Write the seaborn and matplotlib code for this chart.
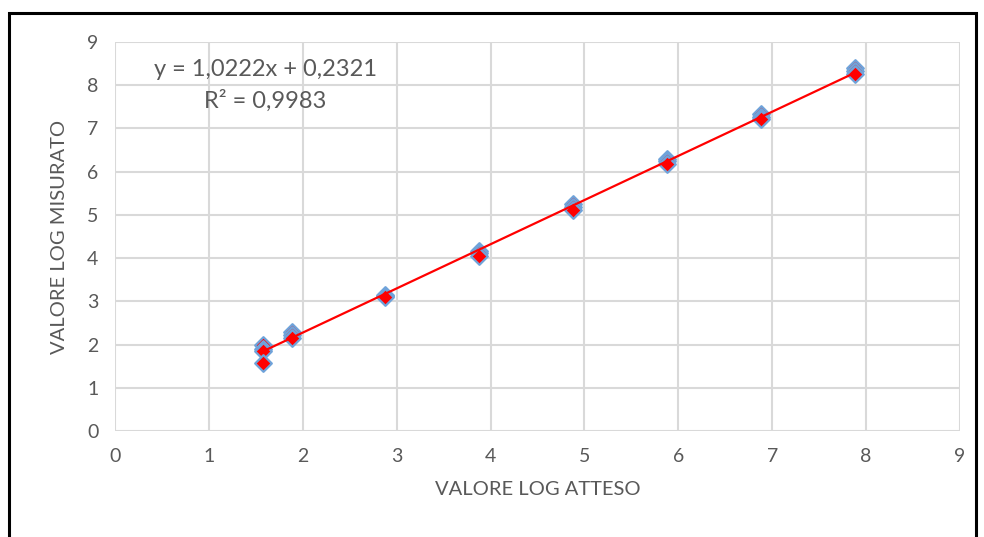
import matplotlib
matplotlib.use("Agg")
import matplotlib.pyplot as plt
import seaborn as sns
import numpy as np
import pandas as pd
from matplotlib.patches import Rectangle

# Expected vs measured log values (replicates per level)
expected_log = [1.58, 1.58, 1.58, 1.58,
                1.88, 1.88, 1.88,
                2.88, 2.88, 2.88,
                3.88, 3.88, 3.88,
                4.88, 4.88, 4.88,
                5.88, 5.88, 5.88,
                6.88, 6.88, 6.88,
                7.88, 7.88, 7.88]
measured_log = [1.98, 1.90, 1.85, 1.57,
                2.30, 2.22, 2.15,
                3.15, 3.12, 3.10,
                4.17, 4.12, 4.05,
                5.25, 5.18, 5.12,
                6.30, 6.25, 6.18,
                7.33, 7.27, 7.22,
                8.40, 8.33, 8.25]

# Linear trendline coefficients
slope = 1.0222
intercept = 0.2321
r_squared = 0.9983

ticks = list(range(0, 10))

sns.set_theme(style="white")
plt.rcParams["font.family"] = ["Lato", "DejaVu Sans"]

fig = plt.figure(figsize=(9.84, 5.37), dpi=100)
ax = fig.add_axes([115 / 984, (537 - 431) / 537, (960 - 115) / 984, (431 - 42) / 537])

df = pd.DataFrame({"atteso": expected_log, "misurato": measured_log})

# trendline over the data range
x_line = np.array([min(expected_log), max(expected_log)])
line_df = pd.DataFrame({"x": x_line, "y": slope * x_line + intercept})

sns.scatterplot(data=df, x="atteso", y="misurato", ax=ax, marker="D", s=72,
                color="#FF0000", edgecolor="#6FA3DA", linewidth=1.6, zorder=3,
                legend=False)
sns.lineplot(data=line_df, x="x", y="y", ax=ax, color="#FF0000", linewidth=1.6,
             zorder=4, legend=False)

ax.set_xlim(0, 9)
ax.set_ylim(0, 9)
ax.set_xticks(ticks)
ax.set_yticks(ticks)
ax.grid(True, color="#D9D9D9", linewidth=1.5)
ax.set_axisbelow(True)
for sp in ax.spines.values():
    sp.set_visible(False)
ax.tick_params(axis="both", length=0, labelsize=14, colors="#595959", pad=12)
ax.tick_params(axis="x", pad=12)

ax.set_xlabel("VALORE LOG ATTESO", fontsize=14.5, color="#595959", labelpad=12)
ax.set_ylabel("VALORE LOG MISURATO", fontsize=14.5, color="#595959", labelpad=14)

eq = f"y = {slope:.4f}x + {intercept:.4f}".replace(".", ",")
r2 = f"R² = {r_squared:.4f}".replace(".", ",")
ax.text(1.60, 8.36, eq, ha="center", va="center", fontsize=17, color="#595959")
ax.text(1.60, 7.64, r2, ha="center", va="center", fontsize=17, color="#595959")

# outer frame
fig.patches.append(Rectangle((9 / 984, -0.02), (976 - 9) / 984, (537 - 13) / 537 + 0.02,
                             transform=fig.transFigure, fill=False,
                             edgecolor="black", linewidth=2.2, zorder=10))

fig.savefig("out.png", dpi=100)
